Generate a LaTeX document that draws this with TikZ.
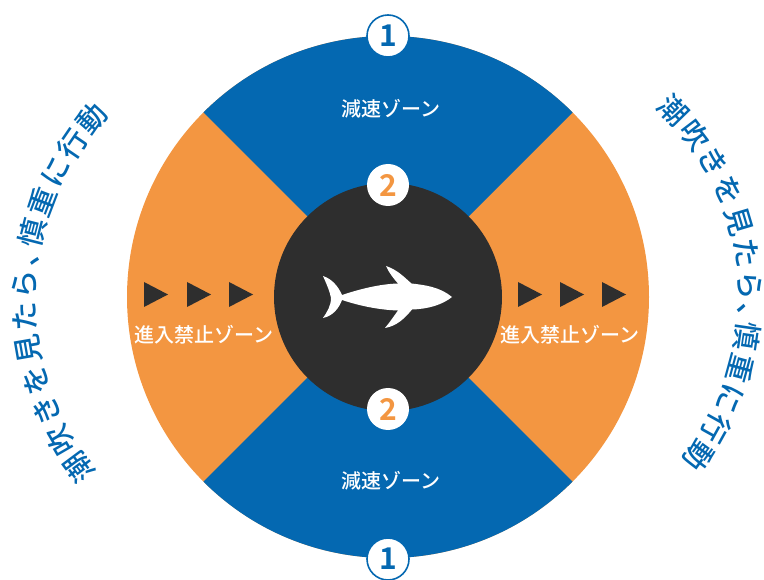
\documentclass[tikz,border=0pt]{standalone}
\usepackage{fontspec}
\newfontfamily\jpf{Noto Sans CJK JP Medium}
\newfontfamily\jpb{Noto Sans CJK JP Bold}
\definecolor{zoneblue}{HTML}{0468B1}
\definecolor{zoneorange}{HTML}{F39641}
\definecolor{coredark}{HTML}{2E2E2E}
\tikzset{
  zonelabel/.style={text=white,font=\jpf\fontsize{20}{22}\selectfont,inner sep=0pt},
  arcchar/.style={text=zoneblue,font=\jpf\fontsize{29}{30}\selectfont,inner sep=0pt,text height=0.88em,text depth=0.12em},
  badge/.style={circle,fill=white,minimum size=42pt,inner sep=0pt,font=\jpb\fontsize{30}{30}\selectfont},
  badgeone/.style={badge,draw=zoneblue,line width=1.6pt,text=zoneblue},
  badgetwo/.style={badge,text=zoneorange},
  arrowmark/.style={fill=coredark}
}
\begin{document}
\begin{tikzpicture}[x=1pt,y=-1pt]
\useasboundingbox (0,0) rectangle (764,580);
\coordinate (c) at (388,297);
% zones
\fill[zoneorange] (c) circle[radius=261pt];
\fill[zoneblue] (c) -- (572.6,112.4) arc[start angle=45,end angle=135,radius=261pt] -- cycle;
\fill[zoneblue] (c) -- (203.4,481.6) arc[start angle=225,end angle=315,radius=261pt] -- cycle;
\fill[coredark] (c) circle[radius=114pt];
% badges
\node[badgeone] (n1a) at (388,36) {1};
\node[badgeone] (n1b) at (388,559) {1};
\node[badgetwo] (n2a) at (388,185) {2};
\node[badgetwo] (n2b) at (388,409) {2};
% zone labels
\node[zonelabel] (zt) at (391,109) {減速ゾーン};
\node[zonelabel] (zb) at (391,481) {減速ゾーン};
\node[zonelabel] (zl) at (204,335) {進入禁止ゾーン};
\node[zonelabel] (zr) at (570,335) {進入禁止ゾーン};
% arrow marks
\foreach \x in {144,187,229,518,560,602}
  \fill[arrowmark] (\x,282) -- (\x+24,294.5) -- (\x,307) -- cycle;
% whale
\fill[white] (452,297)
  .. controls (440,287) and (425,285) .. (411.5,283.5)
  .. controls (405,278) and (398,270) .. (386,266)
  .. controls (389,273) and (394,279) .. (398,283.5)
  .. controls (380,284) and (360,289) .. (342,295)
  .. controls (338,286) and (332,279) .. (323,276)
  .. controls (327,285) and (330,292) .. (331,298)
  .. controls (331,306) and (327,312) .. (323,318)
  .. controls (333,316) and (339,308) .. (342,300)
  .. controls (360,306) and (380,310) .. (398,310.5)
  .. controls (394,316) and (390,322) .. (385,328)
  .. controls (397,326) and (405,318) .. (412,309.5)
  .. controls (428,309) and (442,305) .. (452,297) -- cycle;
% arc text, left
\foreach \ch/\k [count=\i from 0] in {潮/0,吹/1,き/2,を/3,見/4,た/5,ら/6,、/7,慎/7.6,重/8.6,に/9.6,行/10.6,動/11.6}{
  \pgfmathsetmacro\ang{216.7-6.7*\k}
  \pgfmathsetmacro\rot{\ang-90}
  \node[arcchar,rotate=\rot] (la\i) at ({302+271*cos(\ang)},{301-271*sin(\ang)}) {\ch};
}
% arc text, right
\foreach \ch/\k [count=\i from 0] in {潮/0,吹/1,き/2,を/3,見/4,た/5,ら/6,、/7,慎/7.6,重/8.6,に/9.6,行/10.6,動/11.6}{
  \pgfmathsetmacro\ang{44.2-6.91*\k}
  \pgfmathsetmacro\rot{\ang-90}
  \node[arcchar,rotate=\rot] (ra\i) at ({481+262*cos(\ang)},{298-262*sin(\ang)}) {\ch};
}
\end{tikzpicture}
\end{document}
